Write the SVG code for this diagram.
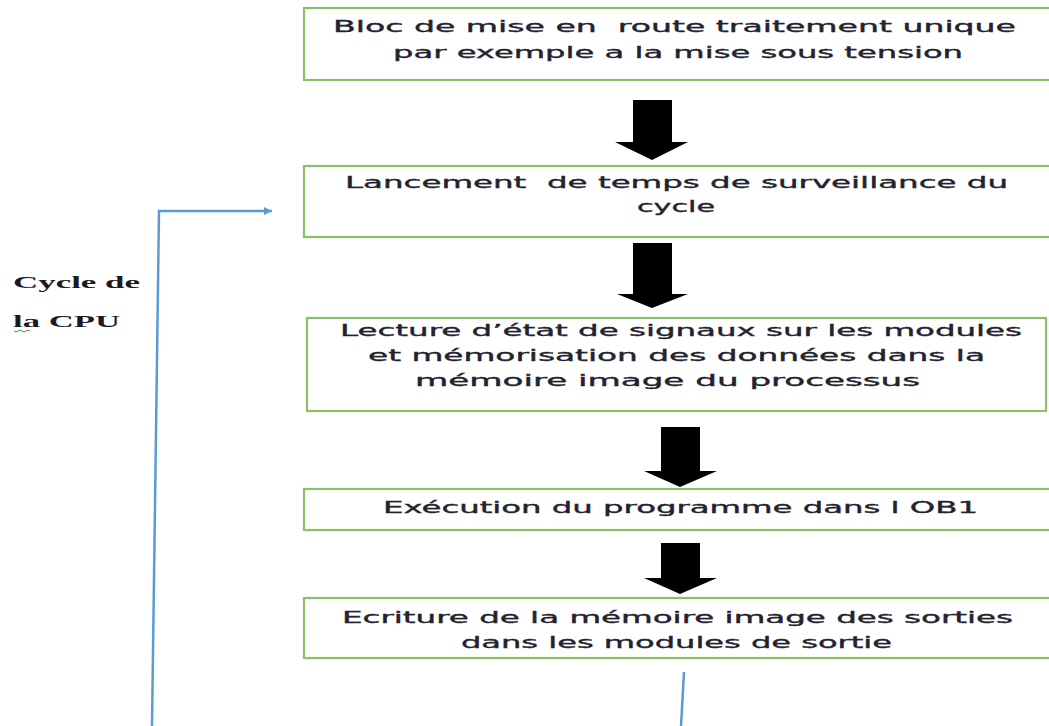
<svg xmlns="http://www.w3.org/2000/svg" width="1049" height="726" viewBox="0 0 1049 726">
  <style>
    .box { fill: #ffffff; stroke: #8cc068; stroke-width: 2.2; }
    .lbl { font-family: "DejaVu Sans", Verdana, sans-serif; font-size: 16px; fill: #23222e; stroke: #23222e; stroke-width: 0.35; }
    .side { font-family: "Liberation Serif", "Times New Roman", serif; font-size: 17.5px; font-weight: bold; fill: #1c1a20; }
    .blk { fill: #000000; }
    .loop { fill: none; stroke: #5b9bd5; stroke-width: 2.5; }
  </style>
  <defs>
    <marker id="loopHead" viewBox="0 0 10 10" refX="10" refY="5" markerWidth="8" markerHeight="8" markerUnits="userSpaceOnUse" orient="auto">
      <path d="M0,0 L10,5 L0,10 Z" fill="#5b9bd5"/>
    </marker>
    <filter id="soft" x="-5%" y="-5%" width="110%" height="110%">
      <feGaussianBlur stdDeviation="0.6"/>
    </filter>
  </defs>
  <rect width="1049" height="726" fill="#ffffff"/>

  <!-- process steps -->
  <g id="step-startup">
    <rect class="box" x="304" y="8" width="750" height="72"/>
    <text class="lbl" x="333" y="32" textLength="683" lengthAdjust="spacingAndGlyphs" xml:space="preserve">Bloc de mise en  route traitement unique</text>
    <text class="lbl" x="393" y="58" textLength="570" lengthAdjust="spacingAndGlyphs">par exemple a la mise sous tension</text>
  </g>

  <g id="step-watchdog">
    <rect class="box" x="304" y="166" width="750" height="71"/>
    <text class="lbl" x="345" y="188" textLength="663" lengthAdjust="spacingAndGlyphs" xml:space="preserve">Lancement  de temps de surveillance du</text>
    <text class="lbl" x="637" y="212" textLength="78" lengthAdjust="spacingAndGlyphs">cycle</text>
  </g>

  <g id="step-inputs">
    <rect class="box" x="307" y="318" width="739" height="93"/>
    <text class="lbl" x="340" y="336" textLength="682" lengthAdjust="spacingAndGlyphs">Lecture d’état de signaux sur les modules</text>
    <text class="lbl" x="368" y="361" textLength="617" lengthAdjust="spacingAndGlyphs">et mémorisation des données dans la</text>
    <text class="lbl" x="415" y="386" textLength="505" lengthAdjust="spacingAndGlyphs">mémoire image du processus</text>
  </g>

  <g id="step-ob1">
    <rect class="box" x="304" y="489" width="750" height="41"/>
    <text class="lbl" x="383" y="513" textLength="595" lengthAdjust="spacingAndGlyphs">Exécution du programme dans l OB1</text>
  </g>

  <g id="step-outputs">
    <rect class="box" x="304" y="598" width="750" height="60"/>
    <text class="lbl" x="342" y="623" textLength="671" lengthAdjust="spacingAndGlyphs">Ecriture de la mémoire image des sorties</text>
    <text class="lbl" x="461" y="648" textLength="431" lengthAdjust="spacingAndGlyphs">dans les modules de sortie</text>
  </g>

  <g id="cycle-label">
    <text class="side" x="13" y="288" textLength="127" lengthAdjust="spacingAndGlyphs">Cycle de</text>
    <text class="side" x="13" y="327" textLength="107" lengthAdjust="spacingAndGlyphs">la CPU</text>
    <path d="M14,331 q2,2 4,0 t4,0 t4,0 t4,0" fill="none" stroke="#3a9a3a" stroke-width="1"/>
  </g>

  <!-- connectors -->
  <g id="connectors">
    <g filter="url(#soft)">
      <path class="blk" d="M633,100 H672 V142 H688 L652,160 L615,142 H633 Z"/>
      <path class="blk" d="M633,243 H672 V294 H688 L652,308 L617,294 H633 Z"/>
      <path class="blk" d="M661,427 H700 V471 H717 L680,487 L644,471 H661 Z"/>
      <path class="blk" d="M661,543 H700 V578 H717 L680,594 L644,578 H661 Z"/>
    </g>
    <path class="loop" d="M684,672 L681,726"/>
    <path class="loop" d="M152,726 L159,211 L272,211" marker-end="url(#loopHead)"/>
  </g>
</svg>
